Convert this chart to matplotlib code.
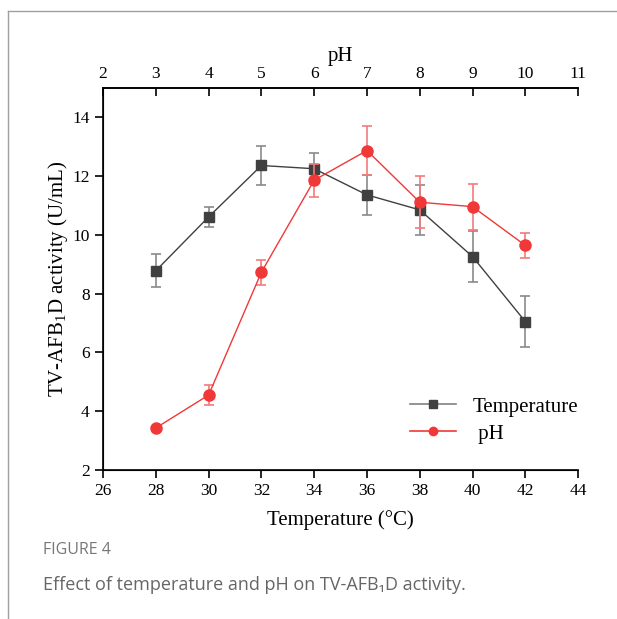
import matplotlib
matplotlib.use("Agg")
import matplotlib.pyplot as plt
from matplotlib.lines import Line2D

# Données
temps = [28, 30, 32, 34, 36, 38, 40, 42]
act_temp = [8.78, 10.61, 12.36, 12.25, 11.36, 10.85, 9.26, 7.05]
err_temp = [0.57, 0.34, 0.66, 0.52, 0.68, 0.85, 0.87, 0.87]

ph_vals = [3, 4, 5, 6, 7, 8, 9, 10]
act_ph = [3.43, 4.55, 8.73, 11.86, 12.87, 11.11, 10.96, 9.64]
err_ph = [0.0, 0.33, 0.43, 0.56, 0.82, 0.88, 0.78, 0.43]

serif = ['Liberation Serif', 'DejaVu Serif']
plt.rcParams['font.family'] = serif
plt.rcParams['mathtext.fontset'] = 'custom'
plt.rcParams['mathtext.rm'] = 'Liberation Serif'
plt.rcParams['mathtext.it'] = 'Liberation Serif:italic'
plt.rcParams['mathtext.bf'] = 'Liberation Serif:bold'

fig = plt.figure(figsize=(6.17, 6.19), dpi=100)
ax = fig.add_axes([0.167, 0.2407, 0.77, 0.6173])

gray = '#404040'
red = '#f03838'

ax.errorbar(temps, act_temp, yerr=err_temp, color=gray, ecolor='#8a8a8a',
            elinewidth=1.2, capsize=3.5, capthick=1.2, marker='s', markersize=7,
            linewidth=1, zorder=3)
ax.set_xlim(26, 44)
ax.set_ylim(2, 15)
ax.set_xticks(range(26, 45, 2))
ax.set_yticks(range(2, 15, 2))
ax.spines['right'].set_visible(False)
ax.tick_params(axis='both', direction='out', labelsize=12.5, width=1.2, length=6,
               labelfontfamily='Liberation Serif')
ax.set_xlabel('Temperature (°C)', fontsize=15, labelpad=8)
ax.set_ylabel('TV-AFB$_1$D activity (U/mL)', fontsize=15, labelpad=2)
for s in ['left', 'bottom', 'top']:
    ax.spines[s].set_linewidth(1.2)

ax2 = ax.twiny()
ax2.errorbar(ph_vals, act_ph, yerr=err_ph, color=red, ecolor='#f47a7a',
             elinewidth=1.2, capsize=3.5, capthick=1.2, marker='o', markersize=8,
             linewidth=1, zorder=4)
ax2.set_xlim(2, 11)
ax2.set_xticks(range(2, 12))
ax2.spines['right'].set_visible(False)
ax2.spines['top'].set_linewidth(1.2)
ax2.tick_params(axis='x', direction='in', labelsize=12.5, width=1.2, length=6, pad=4,
                labelfontfamily='Liberation Serif')
ax2.set_xlabel('pH', fontsize=15, labelpad=3.5)

handles = [Line2D([], [], color='#808080', lw=1.2, marker='s', markersize=6,
                  markerfacecolor=gray, markeredgecolor=gray),
           Line2D([], [], color=red, lw=1.2, marker='o', markersize=6)]
ax2.legend(handles, ['Temperature', ' pH'], loc='lower right',
           bbox_to_anchor=(1.04, 0.02), frameon=False, fontsize=15,
           handlelength=2.2, handletextpad=0.8, labelspacing=0.35)

# Cadre et légende de la figure
fig.add_artist(Line2D([8 / 617, 1], [1 - 11 / 619, 1 - 11 / 619], color='#a0a0a0', lw=1))
fig.add_artist(Line2D([8 / 617, 8 / 617], [0, 1 - 11 / 619], color='#a0a0a0', lw=1))
fig.text(43 / 617, 1 - 550 / 619, 'FIGURE 4', fontsize=11.5, color='#777777',
         family=['Open Sans', 'DejaVu Sans'], va='center')
fig.text(43 / 617, 1 - 585 / 619, 'Effect of temperature and pH on TV-AFB\u2081D activity.',
         fontsize=13, color='#666666', family=['Open Sans', 'DejaVu Sans'], va='center')

fig.savefig('out.png', dpi=100)
